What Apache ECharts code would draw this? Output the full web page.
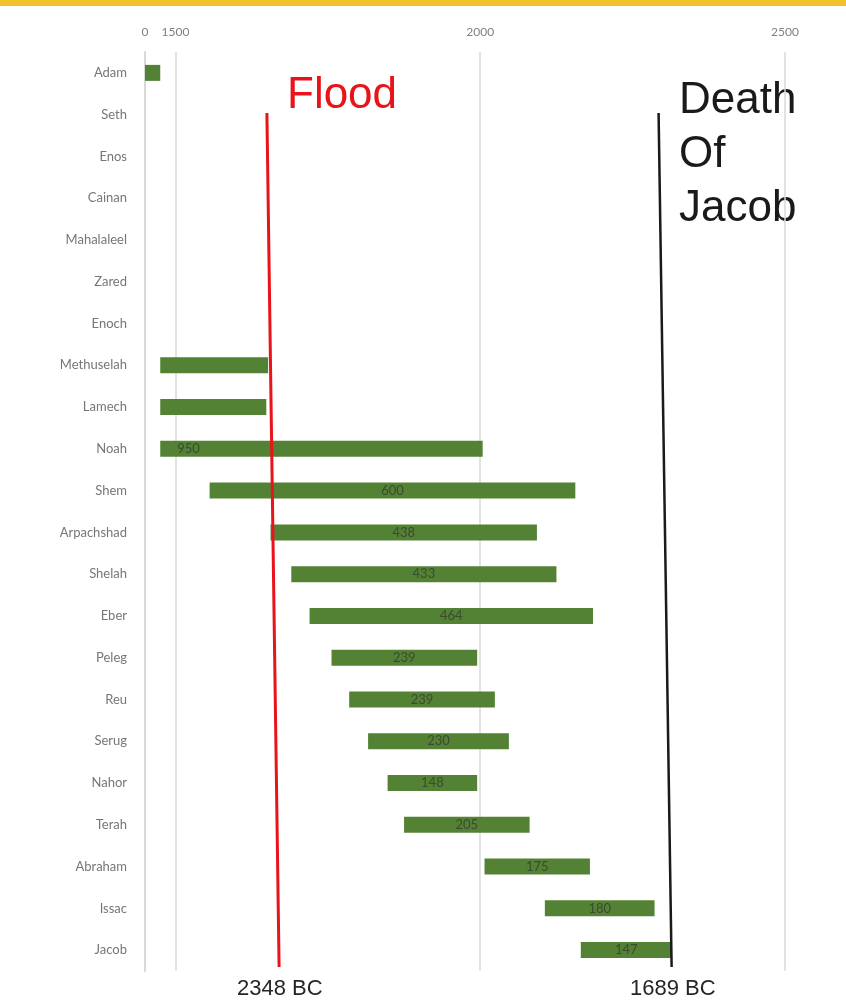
<!DOCTYPE html>
<html>
<head>
<meta charset="utf-8">
<script src="https://cdn.jsdelivr.net/npm/echarts@6/dist/echarts.min.js"></script>
<style>
html,body{margin:0;padding:0;background:#fff;}
#chart{width:846px;height:1008px;}
</style>
</head>
<body>
<div id="chart"></div>
<script>
// ---- data ----
const categories = ['Adam','Seth','Enos','Cainan','Mahalaleel','Zared','Enoch','Methuselah','Lamech','Noah','Shem','Arpachshad','Shelah','Eber','Peleg','Reu','Serug','Nahor','Terah','Abraham','Issac','Jacob'];
const starts = [1450,null,null,null,null,null,null,1475,1475,1475,1556,1656,1690,1720,1756,1785,1816,1848,1875,2007,2106,2165];
const ends   = [1475,null,null,null,null,null,null,1652,1649,2004,2156,2093,2125,2185,1995,2024,2047,1995,2081,2180,2286,2314];
const lifeLabels = ['','','','','','','','','',950,600,438,433,464,239,239,230,148,205,175,180,147];
const tickValues = [1450,1500,2000,2500];
const tickLabels = ['0','1500','2000','2500'];
const gridValues = [1500,2000,2500];
const floodLine = [[1650,0.9336],[1670,0.0044]];
const jacobLine = [[2292.6,0.9336],[2314,0.0044]];

const chart = echarts.init(document.getElementById('chart'), null, {renderer:'canvas'});

const baseData = starts.map(v => v == null ? '-' : v);
const spanData = starts.map((s,i) => {
  if (s == null) return '-';
  const item = {value: ends[i] - s};
  if (categories[i] === 'Noah') item.label = {position:'insideLeft', offset:[12,0]};
  return item;
});

const option = {
  animation:false,
  backgroundColor:'#ffffff',
  grid:{left:145,right:61,top:52,bottom:37,containLabel:false},
  xAxis:{
    type:'value', position:'top', min:1450, max:2500,
    axisLine:{show:false}, axisTick:{show:false},
    splitLine:{show:false},
    axisLabel:{
      customValues:tickValues,
      showMinLabel:true, showMaxLabel:true, hideOverlap:false,
      color:'#7f7f7f', fontSize:12, fontFamily:'Lato', margin:14,
      formatter:function(v){const i=tickValues.indexOf(v);return i>=0?tickLabels[i]:'';}
    }
  },
  yAxis:[{
    type:'category', inverse:true, data:categories,
    axisLine:{show:true,lineStyle:{color:'#d9d9d9',width:2}},
    axisTick:{show:false},
    axisLabel:{color:'#767676',fontSize:13,fontFamily:'Lato',margin:18}
  },{
    type:'value', min:0, max:1, show:false
  }],
  series:[
    {
      type:'bar', stack:'life', data:baseData, barWidth:16, silent:true, z:1,
      itemStyle:{color:'rgba(0,0,0,0)'},
      markLine:{
        silent:true, symbol:'none', label:{show:false}, z:0,
        lineStyle:{color:'#d9d9d9',width:1.5,type:'solid'},
        data:gridValues.map(v=>({xAxis:v}))
      }
    },
    {
      type:'bar', stack:'life', data:spanData, barWidth:16, z:3,
      itemStyle:{color:'#548235'},
      label:{
        show:true, position:'inside', color:'#3b4a30', fontSize:13, fontFamily:'Lato',
        formatter:function(p){return lifeLabels[p.dataIndex]===''?'':String(lifeLabels[p.dataIndex]);}
      }
    },
    {
      type:'line', yAxisIndex:1, data:floodLine, clip:false, symbol:'none',
      lineStyle:{color:'#e8141a',width:3}, z:5
    },
    {
      type:'line', yAxisIndex:1, data:jacobLine, clip:false, symbol:'none',
      lineStyle:{color:'#1a1a1a',width:2.5}, z:5
    }
  ],
  graphic:[
    {type:'rect',left:0,top:0,shape:{width:846,height:6},style:{fill:'#f2c12e'}},
    {type:'text',left:287,top:74,style:{text:'Flood',fill:'#e8141a',font:'44px "Liberation Sans", Arial, sans-serif'}},
    {type:'text',left:679,top:74,style:{text:'Death\nOf\nJacob',fill:'#1a1a1a',font:'44px "Liberation Sans", Arial, sans-serif',lineHeight:54}},
    {type:'text',left:237,top:978,style:{text:'2348 BC',fill:'#262626',font:'22px "Liberation Sans", Arial, sans-serif'}},
    {type:'text',left:630,top:978,style:{text:'1689 BC',fill:'#262626',font:'22px "Liberation Sans", Arial, sans-serif'}}
  ]
};
chart.setOption(option);
</script>
</body>
</html>
